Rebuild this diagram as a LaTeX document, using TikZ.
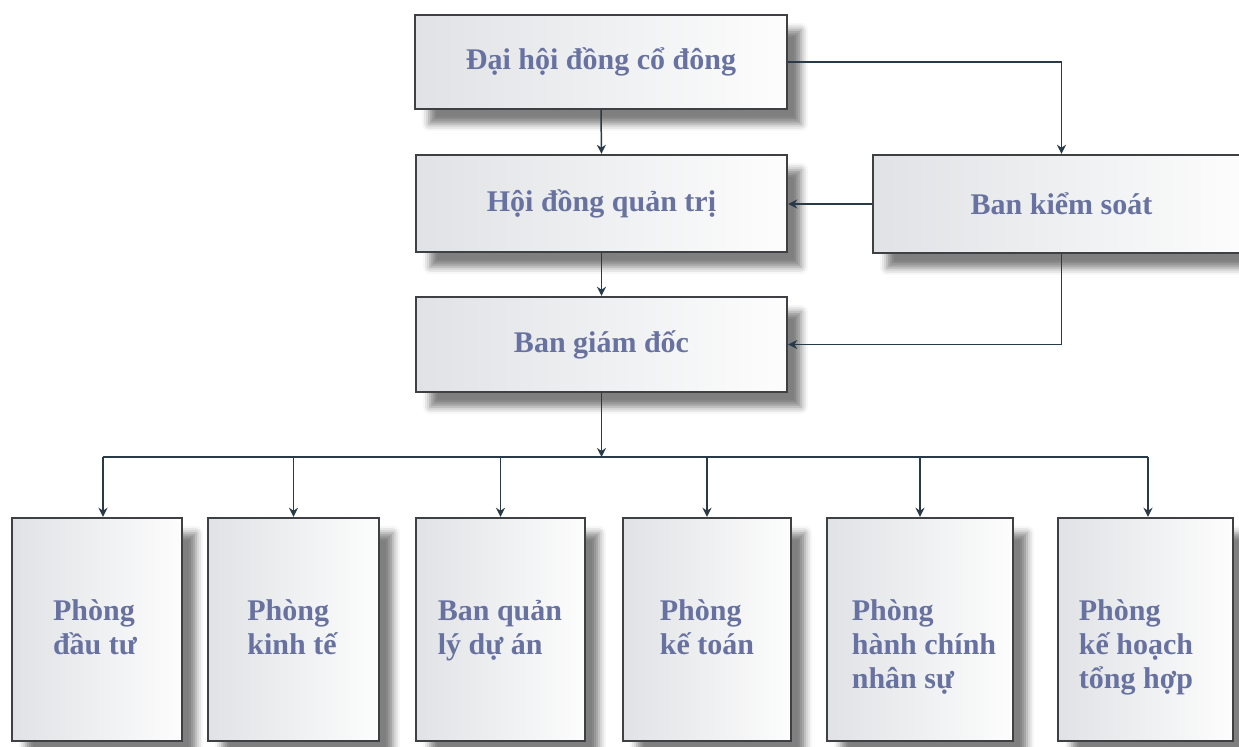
\documentclass[tikz,border=0pt]{standalone}
\usepackage{fontspec}
\setmainfont{Liberation Serif}
\usetikzlibrary{arrows.meta,shadows.blur}
\definecolor{txt}{RGB}{104,114,160}
\definecolor{edgec}{RGB}{62,64,68}
\definecolor{wire}{RGB}{40,58,72}
\definecolor{fillL}{RGB}{224,226,229}
\definecolor{fillR}{RGB}{253,253,253}
\begin{document}
\begin{tikzpicture}[x=0.5pt,y=-0.5pt,
  box/.style={draw=edgec, line width=1.2pt, left color=fillL, right color=fillR,
    blur shadow={shadow xshift=7pt, shadow yshift=-7.5pt, shadow opacity=50, shadow blur radius=3.5pt},
    font=\bfseries\fontsize{15}{17}\selectfont, text=txt, inner sep=0pt},
  lbl/.style={font=\bfseries\fontsize{15}{17}\selectfont, text=txt, inner sep=0pt, align=left, anchor=north},
  wireline/.style={draw=wire, line width=0.75pt},
  arr/.style={wireline, -{Stealth[length=4.5pt,width=4.5pt]}}
]
\useasboundingbox (0,0) rectangle (1239,747);
\clip (0,0) rectangle (1239,747);

% top level boxes
\node[box, minimum width=186pt, minimum height=47pt] (dh) at (601,62) {Đại hội đồng cổ đông};
\node[box, minimum width=185.5pt, minimum height=48.5pt] (hd) at (601.5,203.5) {Hội đồng quản trị};
\node[box, minimum width=188.5pt, minimum height=49pt] (bks) at (1061.5,204) {Ban kiểm soát};
\node[box, minimum width=185.5pt, minimum height=47.5pt] (bgd) at (601.5,344.5) {Ban giám đốc};

% bottom boxes
\node[box, minimum width=85pt, minimum height=111.5pt] (b1) at (97,629.5) {};
\node[box, minimum width=85.5pt, minimum height=111.5pt] (b2) at (293.5,629.5) {};
\node[box, minimum width=84.5pt, minimum height=111.5pt] (b3) at (500.5,629.5) {};
\node[box, minimum width=84pt, minimum height=111.5pt] (b4) at (707,629.5) {};
\node[box, minimum width=93pt, minimum height=111.5pt] (b5) at (920,629.5) {};
\node[box, minimum width=87.5pt, minimum height=111.5pt] (b6) at (1145.5,629.5) {};

\node[lbl] (t1) at (95,592) {\rule{0pt}{14pt}Phòng\\đầu tư};
\node[lbl] (t2) at (292,592) {\rule{0pt}{14pt}Phòng\\kinh tế};
\node[lbl] (t3) at (500,592) {\rule{0pt}{14pt}Ban quản\\lý dự án};
\node[lbl] (t4) at (707,592) {\rule{0pt}{14pt}Phòng\\kế toán};
\node[lbl] (t5) at (924,592) {\rule{0pt}{14pt}Phòng\\hành chính\\nhân sự};
\node[lbl] (t6) at (1136,592) {\rule{0pt}{14pt}Phòng\\kế hoạch\\tổng hợp};

% connectors
\draw[arr] (dh.south) -- (hd.north);
\draw[arr] (dh.east) -| (bks.north);
\draw[arr] (bks.west) -- (bks.west -| hd.east);
\draw[arr] (hd.south) -- (bgd.north);
\draw[arr] (bks.south) |- (bgd.east);

\coordinate (bus) at (601.5,457);
\coordinate (busL) at (103,457);
\coordinate (busR) at (1148,457);
\draw[arr] (bgd.south) -- (bus);
\draw[wireline] (busL) -- (busR);
\draw[arr] (busL) -- (busL |- b1.north);
\draw[arr] (b2.north |- bus) -- (b2.north);
\draw[arr] (b3.north |- bus) -- (b3.north);
\draw[arr] (b4.north |- bus) -- (b4.north);
\draw[arr] (b5.north |- bus) -- (b5.north);
\draw[arr] (busR) -- (busR |- b6.north);
\end{tikzpicture}
\end{document}
